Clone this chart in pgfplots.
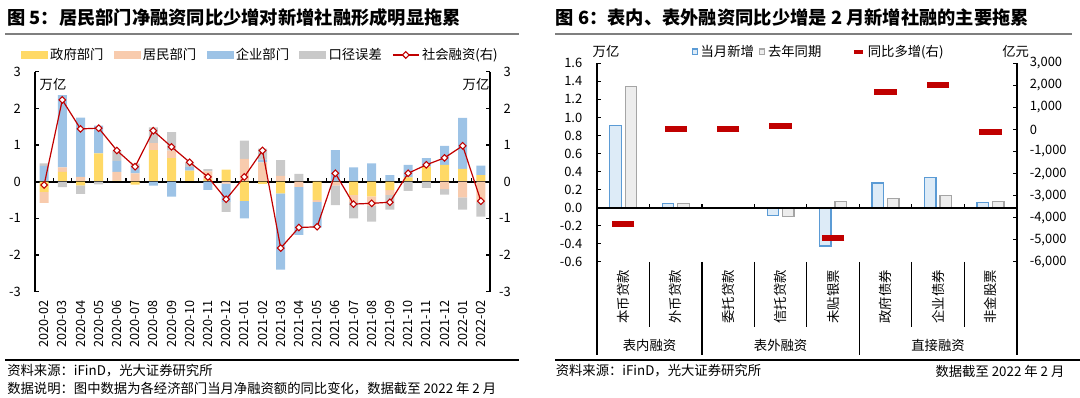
\documentclass[border=0pt]{standalone}
\usepackage{fontspec}
\setmainfont{Noto Sans CJK SC}
\usepackage{pgfplots}
\usepackage{pgfplotstable}
\pgfplotsset{compat=1.18}
\newcommand{\fsz}[1]{\fontsize{#1}{#1}\selectfont}
\definecolor{cgov}{HTML}{FFD966}
\definecolor{chh}{HTML}{F8CBAD}
\definecolor{ccorp}{HTML}{9DC3E6}
\definecolor{cerr}{HTML}{C9C9C9}
\definecolor{cred}{HTML}{C00000}
\definecolor{cbfill}{HTML}{DDEBF7}
\definecolor{cbdraw}{HTML}{5B9BD5}
\definecolor{cgfill}{HTML}{EDEDED}
\definecolor{cgdraw}{HTML}{A5A5A5}
\definecolor{ctl}{HTML}{7F7F7F}

\pgfplotstableread{
month gov hh corp err tsf
2020-02 -0.28 -0.30 0.43 0.07 -0.09
2020-03 0.27 0.12 1.97 -0.15 2.23
2020-04 -0.10 0.13 1.62 -0.23 1.44
2020-05 0.77 0.00 0.76 -0.07 1.46
2020-06 0.03 0.24 0.30 0.28 0.85
2020-07 -0.08 0.23 0.20 0.06 0.41
2020-08 0.86 0.19 -0.11 0.43 1.39
2020-09 0.64 0.21 -0.41 0.50 0.95
2020-10 0.30 0.00 0.10 0.12 0.53
2020-11 0.08 0.20 -0.22 0.06 0.13
2020-12 0.33 -0.05 -0.50 -0.27 -0.48
2021-01 -0.52 0.62 -0.48 0.50 0.13
2021-02 -0.06 0.53 0.07 0.30 0.85
2021-03 -0.32 0.16 -2.08 0.43 -1.81
2021-04 0.00 -0.14 -1.31 0.21 -1.25
2021-05 -0.50 -0.05 -0.70 0.02 -1.23
2021-06 0.00 -0.10 0.86 -0.54 0.23
2021-07 -0.36 -0.20 0.39 -0.44 -0.61
2021-08 -0.40 -0.25 0.50 -0.44 -0.59
2021-09 -0.23 -0.13 0.18 -0.40 -0.56
2021-10 0.12 0.00 0.34 -0.25 0.23
2021-11 0.41 0.00 0.23 -0.17 0.46
2021-12 0.46 -0.20 0.52 -0.15 0.65
2022-01 0.35 -0.43 1.39 -0.33 0.98
2022-02 0.18 -0.56 0.26 -0.39 -0.53
}\leftdata

\pgfplotstableread{
idx cur prev diff
0 0.908 1.340 -4300
1 0.047 0.044 30
2 -0.005 -0.006 10
3 -0.084 -0.100 160
4 -0.424 0.066 -4900
5 0.272 0.104 1680
6 0.337 0.137 2000
7 0.060 0.071 -110
}\rightdata

\pgfplotsset{
 leftbase/.style={scale only axis, width=341.25pt, height=165pt,
   at={(26.25pt,78.98pt)}, anchor=south west,
   xmin=-0.5, xmax=24.5, ymin=-3, ymax=3,
   /pgf/number format/assume math mode=true},
 rightbase/.style={scale only axis, width=314.8pt, height=148.9pt,
   at={(447.75pt,101.4pt)}, anchor=south west,
   xmin=-0.5, xmax=7.5,
   /pgf/number format/assume math mode=true},
 barleg/.style={legend image code/.code={\fill[#1] (0pt,-2.6pt) rectangle (19.5pt,2.6pt);}},
 tsfleg/.style={legend image code/.code={\draw[mark repeat=2,mark phase=2,##1] plot coordinates {(0pt,0pt) (9.75pt,0pt) (19.5pt,0pt)};}},
 curleg/.style={legend image code/.code={\draw[fill=cbfill,draw=cbdraw,line width=0.8pt] (0pt,-1.9pt) rectangle (3.8pt,1.9pt);}},
 prevleg/.style={legend image code/.code={\draw[fill=cgfill,draw=cgdraw,line width=0.8pt] (0pt,-1.9pt) rectangle (3.8pt,1.9pt);}},
 diffleg/.style={legend image code/.code={\draw[cred, line width=3pt] (0pt,0pt) -- (7pt,0pt);}},
}

\begin{document}
\begin{tikzpicture}
\path[use as bounding box] (0,0) rectangle (810pt,297.75pt);

% ---------- left chart: positive parts ----------
\begin{axis}[leftbase,
  ybar stacked, bar width=6.75pt,
  axis y line*=left, axis x line*=bottom,
  x axis line style={draw=none},
  y axis line style={line width=1.2pt},
  xtick={0,...,24}, xticklabels from table={\leftdata}{month},
  x tick style={draw=none},
  xticklabel style={rotate=90, anchor=east, inner sep=0pt, font=\fsz{9.5pt}},
  xticklabel shift=6.5pt,
  ytick={-3,...,3}, tick align=inside, major tick length=3pt,
  y tick style={line width=0.9pt, black},
  yticklabel style={anchor=east, inner sep=0pt, font=\fsz{9.7pt}},
  yticklabel shift=10.5pt,
]
\addplot[fill=cgov, draw=none] table[x expr=\coordindex, y expr={max(\thisrow{gov},0)}] {\leftdata};
\addplot[fill=chh, draw=none] table[x expr=\coordindex, y expr={max(\thisrow{hh},0)}] {\leftdata};
\addplot[fill=ccorp, draw=none] table[x expr=\coordindex, y expr={max(\thisrow{corp},0)}] {\leftdata};
\addplot[fill=cerr, draw=none] table[x expr=\coordindex, y expr={max(\thisrow{err},0)}] {\leftdata};
\end{axis}

% ---------- left chart: negative parts ----------
\begin{axis}[leftbase, hide axis, ybar stacked, bar width=6.75pt]
\addplot[fill=cgov, draw=none] table[x expr=\coordindex, y expr={min(\thisrow{gov},0)}] {\leftdata};
\addplot[fill=chh, draw=none] table[x expr=\coordindex, y expr={min(\thisrow{hh},0)}] {\leftdata};
\addplot[fill=ccorp, draw=none] table[x expr=\coordindex, y expr={min(\thisrow{corp},0)}] {\leftdata};
\addplot[fill=cerr, draw=none] table[x expr=\coordindex, y expr={min(\thisrow{err},0)}] {\leftdata};
\draw[line width=1.5pt] (axis cs:-0.5,0) -- (axis cs:24.5,0);
\pgfplotsinvokeforeach{0,...,23}{\draw[line width=0.9pt] (axis cs:#1.5,0) -- ++(0pt,2.8pt);}
\end{axis}

% ---------- left chart: line, right axis, legend ----------
\begin{axis}[leftbase,
  axis y line*=right, axis x line=none, xtick=\empty,
  y axis line style={line width=1.2pt},
  ytick={-3,...,3}, tick align=inside, major tick length=3pt,
  y tick style={line width=0.9pt, black},
  yticklabel style={anchor=east, inner sep=0pt, font=\fsz{9.7pt}},
  yticklabel shift=15.75pt,
  legend columns=5,
  legend style={at={(axis description cs:-0.0314,1.076)}, anchor=west,
    draw=none, fill=none, inner sep=0pt, font=\fsz{10pt},
    /tikz/every even column/.append style={column sep=5.7pt}},
]
\addlegendimage{barleg=cgov}
\addlegendentry{政府部门}
\addlegendimage{barleg=chh}
\addlegendentry{居民部门}
\addlegendimage{barleg=ccorp}
\addlegendentry{企业部门}
\addlegendimage{barleg=cerr}
\addlegendentry{口径误差}
\addplot[cred, line width=0.9pt, mark=square*, mark size=1.75pt,
  mark options={fill=white, draw=cred, line width=0.8pt, solid, rotate=45}, tsfleg]
  table[x expr=\coordindex, y=tsf] {\leftdata};
\addlegendentry{社会融资(右)}
\end{axis}

% ---------- right chart: bars, left axis ----------
\begin{axis}[rightbase,
  ymin=-0.6, ymax=1.6,
  ybar, bar width=8.6pt,
  axis y line*=left, axis x line*=bottom,
  x axis line style={draw=none},
  y axis line style={line width=1.2pt},
  xtick={0,...,7},
  xticklabels={本币贷款,外币贷款,委托贷款,信托贷款,未贴银票,政府债券,企业债券,非金股票},
  x tick style={draw=none},
  xticklabel style={rotate=90, anchor=east, inner sep=0pt, font=\fsz{10pt}},
  xticklabel shift=6pt,
  ytick={-0.6,-0.4,-0.2,0,0.2,0.4,0.6,0.8,1.0,1.2,1.4,1.6},
  tick align=inside, major tick length=3pt,
  y tick style={line width=0.9pt, black},
  yticklabel style={anchor=east, inner sep=0pt, font=\fsz{9.7pt},
    /pgf/number format/.cd, fixed, fixed zerofill, precision=1},
  yticklabel shift=10.9pt,
  legend columns=2,
  legend style={at={(axis description cs:0.2252,1.059)}, anchor=west,
    draw=none, fill=none, inner sep=0pt, font=\fsz{10pt},
    /tikz/every even column/.append style={column sep=2pt}},
]
\addplot[fill=cbfill, draw=cbdraw, line width=1pt, bar shift=-5.8pt, curleg]
  table[x=idx, y=cur] {\rightdata};
\addlegendentry{当月新增}
\addplot[fill=cgfill, draw=cgdraw, line width=1pt, bar shift=5.8pt, prevleg]
  table[x=idx, y=prev] {\rightdata};
\addlegendentry{去年同期}
\draw[line width=1.5pt] (axis cs:-0.5,0) -- (axis cs:7.5,0);
\pgfplotsinvokeforeach{0,...,6}{\draw[line width=0.9pt] (axis cs:#1.5,0) -- ++(0pt,2.8pt);}
\end{axis}

% ---------- right chart: difference, right axis ----------
\begin{axis}[rightbase,
  ymin=-6000, ymax=3000,
  axis y line*=right, axis x line=none, xtick=\empty,
  y axis line style={line width=1.2pt},
  ytick={-6000,-5000,...,3000},
  tick align=inside, major tick length=3pt,
  y tick style={line width=0.9pt, black},
  yticklabel style={anchor=west, inner sep=0pt, font=\fsz{9.7pt},
    /pgf/number format/.cd, fixed, precision=0, 1000 sep={,}},
  yticklabel shift=9.6pt,
  legend style={at={(axis description cs:0.6066,1.059)}, anchor=west,
    draw=none, fill=none, inner sep=0pt, font=\fsz{10pt}},
]
\addplot[only marks, mark=-, mark size=8.4pt, mark options={line width=4.5pt, draw=cred}, diffleg]
  table[x=idx, y=diff] {\rightdata};
\addlegendentry{同比多增(右)}
\end{axis}

% ---------- texts and rules (pixel coordinates) ----------
\begin{scope}[x=0.75pt, y=-0.75pt, shift={(0pt,297.75pt)}]
\node[anchor=west, inner sep=0pt, font=\bfseries\fsz{13.7pt}] at (6.9,17.5) {图 5：居民部门净融资同比少增对新增社融形成明显拖累};
\node[anchor=west, inner sep=0pt, font=\bfseries\fsz{13.7pt}] at (555.5,17.5) {图 6：表内、表外融资同比少增是 2 月新增社融的主要拖累};
\draw[ctl, line width=1.5pt] (5,34.4) -- (519,34.4);
\draw[ctl, line width=1.5pt] (555,34.4) -- (1072,34.4);

\node[inner sep=0pt, font=\fsz{10pt}] at (53,84) {万亿};
\node[inner sep=0pt, font=\fsz{10pt}] at (476,84) {万亿};
\node[inner sep=0pt, font=\fsz{10pt}] at (606,51.6) {万亿};
\node[inner sep=0pt, font=\fsz{10pt}] at (1015.6,51.6) {亿元};

% category separators of the right chart
\foreach \xx in {649.5,754.4,806.8,911.8,964.2} {\draw[line width=0.9pt] (\xx,261.8) -- (\xx,327);}
\foreach \xx in {597,701.9,859.3,1016.7} {\draw[line width=1.2pt] (\xx,261.8) -- (\xx,355);}
\node[inner sep=0pt, font=\fsz{10pt}] at (649.5,345) {表内融资};
\node[inner sep=0pt, font=\fsz{10pt}] at (780.6,345) {表外融资};
\node[inner sep=0pt, font=\fsz{10pt}] at (938,345) {直接融资};

\draw[line width=1.2pt] (5,360) -- (519,360);
\draw[line width=1.2pt] (555,360) -- (1080,360);
\node[anchor=west, inner sep=0pt, font=\fsz{10pt}] at (7,371) {资料来源：iFinD，光大证券研究所};
\node[anchor=west, inner sep=0pt, font=\fsz{10pt}] at (7,388.5) {数据说明：图中数据为各经济部门当月净融资额的同比变化，数据截至 2022 年 2 月};
\node[anchor=west, inner sep=0pt, font=\fsz{10pt}] at (555.5,371) {资料来源：iFinD，光大证券研究所};
\node[anchor=east, inner sep=0pt, font=\fsz{10pt}] at (1064.7,371) {数据截至 2022 年 2 月};
\end{scope}
\end{tikzpicture}
\end{document}
